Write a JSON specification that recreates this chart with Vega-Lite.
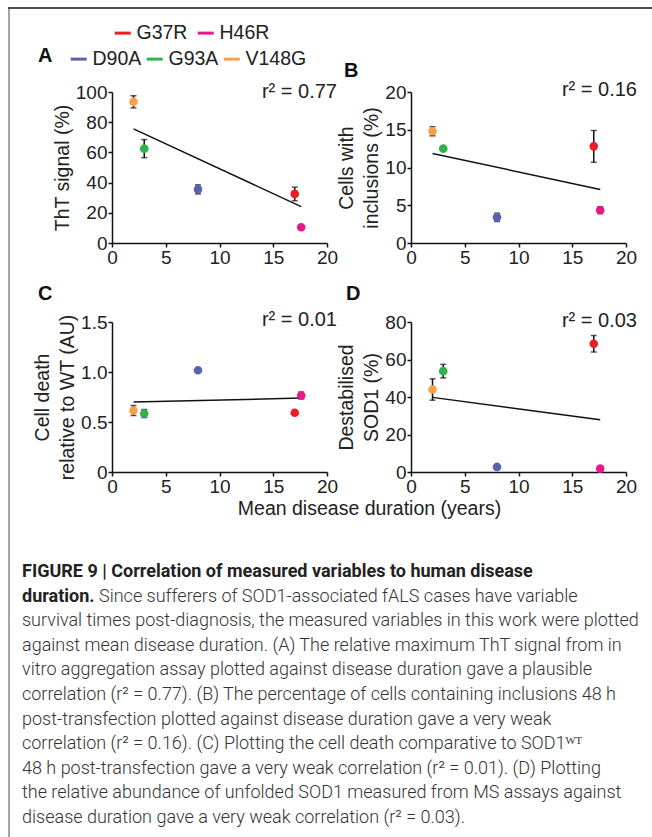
{
  "$schema": "https://vega.github.io/schema/vega-lite/v6.json",
  "background": "white",
  "padding": {"left": 8, "top": 7, "right": 0, "bottom": 0},
  "bounds": "flush",
  "spacing": 0,
  "config": {
    "view": {"stroke": null},
    "font": "Liberation Sans",
    "axis": {
      "domainColor": "#111", "domainWidth": 1.5, "tickColor": "#111", "tickWidth": 1.5, "tickSize": 4,
      "labelFont": "Liberation Sans", "labelFontSize": 19, "labelColor": "#222", "labelPadding": 1,
      "labelFlush": false, "labelOverlap": false,
      "titleFont": "Liberation Sans", "titleFontSize": 19.5, "titleFontWeight": "normal", "titleColor": "#222",
      "titlePadding": 3, "titleLineHeight": 25, "grid": false
    },
    "legend": {
      "symbolType": "stroke", "symbolStrokeWidth": 3, "symbolSize": 256,
      "labelFont": "Liberation Sans", "labelFontSize": 19.5, "labelColor": "#222", "labelOffset": 4,
      "direction": "horizontal", "padding": 0
    },
    "title": {"font": "Liberation Sans", "fontWeight": "bold", "fontSize": 20, "color": "#111", "anchor": "start", "frame": "group", "baseline": "alphabetic"}
  },
  "datasets": {
    "points": [
      {"panel": "A", "mutation": "V148G", "duration": 2, "value": 93.5, "err": 4},
      {"panel": "A", "mutation": "G93A", "duration": 3, "value": 62.5, "err": 6},
      {"panel": "A", "mutation": "D90A", "duration": 8, "value": 35.5, "err": 3},
      {"panel": "A", "mutation": "G37R", "duration": 17, "value": 32.5, "err": 4.5},
      {"panel": "A", "mutation": "H46R", "duration": 17.6, "value": 10.4, "err": 1},
      {"panel": "B", "mutation": "V148G", "duration": 2, "value": 14.8, "err": 0.6},
      {"panel": "B", "mutation": "G93A", "duration": 3, "value": 12.5, "err": 0.15},
      {"panel": "B", "mutation": "D90A", "duration": 8, "value": 3.4, "err": 0.55},
      {"panel": "B", "mutation": "G37R", "duration": 17, "value": 12.8, "err": 2.1},
      {"panel": "B", "mutation": "H46R", "duration": 17.6, "value": 4.35, "err": 0.45},
      {"panel": "C", "mutation": "V148G", "duration": 2, "value": 0.615, "err": 0.05},
      {"panel": "C", "mutation": "G93A", "duration": 3, "value": 0.585, "err": 0.04},
      {"panel": "C", "mutation": "D90A", "duration": 8, "value": 1.018, "err": 0.01},
      {"panel": "C", "mutation": "G37R", "duration": 17, "value": 0.592, "err": 0.01},
      {"panel": "C", "mutation": "H46R", "duration": 17.6, "value": 0.765, "err": 0.035},
      {"panel": "D", "mutation": "V148G", "duration": 2, "value": 44, "err": 5.7},
      {"panel": "D", "mutation": "G93A", "duration": 3, "value": 53.8, "err": 3.6},
      {"panel": "D", "mutation": "D90A", "duration": 8, "value": 2.7, "err": 0.4},
      {"panel": "D", "mutation": "G37R", "duration": 17, "value": 68.4, "err": 4.4},
      {"panel": "D", "mutation": "H46R", "duration": 17.6, "value": 1.8, "err": 0.4}
    ],
    "fits": [
      {"panel": "A", "duration": 2, "value": 75.6},
      {"panel": "A", "duration": 17.6, "value": 24.1},
      {"panel": "B", "duration": 2, "value": 11.85},
      {"panel": "B", "duration": 17.6, "value": 7.1},
      {"panel": "C", "duration": 2, "value": 0.699},
      {"panel": "C", "duration": 17.6, "value": 0.739},
      {"panel": "D", "duration": 2, "value": 39.8},
      {"panel": "D", "duration": 17.6, "value": 27.9}
    ],
    "stats": [
      {"panel": "A", "label": "r² = 0.77"},
      {"panel": "B", "label": "r² = 0.16"},
      {"panel": "C", "label": "r² = 0.01"},
      {"panel": "D", "label": "r² = 0.03"}
    ],
    "caption": [
      {"line": 1, "part": "heading", "text": "FIGURE 9 | Correlation of measured variables to human disease"},
      {"line": 2, "part": "heading", "text": "duration."},
      {"line": 2, "part": "body", "text": "Since sufferers of SOD1-associated fALS cases have variable"},
      {"line": 3, "part": "body", "text": "survival times post-diagnosis, the measured variables in this work were plotted"},
      {"line": 4, "part": "body", "text": "against mean disease duration. (A) The relative maximum ThT signal from in"},
      {"line": 5, "part": "body", "text": "vitro aggregation assay plotted against disease duration gave a plausible"},
      {"line": 6, "part": "body", "text": "correlation (r² = 0.77). (B) The percentage of cells containing inclusions 48 h"},
      {"line": 7, "part": "body", "text": "post-transfection plotted against disease duration gave a very weak"},
      {"line": 8, "part": "body", "text": "correlation (r² = 0.16). (C) Plotting the cell death comparative to SOD1ᵂᵀ"},
      {"line": 9, "part": "body", "text": "48 h post-transfection gave a very weak correlation (r² = 0.01). (D) Plotting"},
      {"line": 10, "part": "body", "text": "the relative abundance of unfolded SOD1 measured from MS assays against"},
      {"line": 11, "part": "body", "text": "disease duration gave a very weak correlation (r² = 0.03)."}
    ]
  },
  "vconcat": [
    {"width": 644, "height": 2, "view": {"fill": "#4d4d4d", "stroke": null}, "data": {"values": []}, "mark": "point"},
    {
      "bounds": "flush",
      "spacing": 102,
      "hconcat": [
        {"width": 2, "height": 828, "view": {"fill": "#a6a6a6", "stroke": null}, "data": {"values": []}, "mark": "point"},
        {
          "bounds": "flush",
          "columns": 2,
          "align": "each",
          "spacing": {"row": 79, "column": 84},
          "concat": [
            {"width": 10, "height": 4, "data": {"values": []}, "mark": "point"},
            {"width": 10, "height": 4, "data": {"values": []}, "mark": "point"},
            {
              "width": 215, "height": 151,
              "title": {"text": "A", "dx": -74, "offset": 16},
              "layer": [
                {"data": {"name": "fits"}, "transform": [{"filter": "datum.panel === 'A'"}], "mark": {"type": "line", "color": "#111", "strokeWidth": 1.5},
                  "encoding": {
                    "x": {"field": "duration", "type": "quantitative", "scale": {"domain": [0, 20], "nice": false, "zero": false}, "axis": {"values": [0, 5, 10, 15, 20], "title": null}},
                    "y": {"field": "value", "type": "quantitative", "scale": {"domain": [0, 100], "nice": false}, "axis": {"values": [0, 20, 40, 60, 80, 100], "title": "ThT signal (%)"}}
                  }},
                {"data": {"name": "points"}, "transform": [{"filter": "datum.panel === 'A'"}], "mark": {"type": "errorbar", "color": "#111", "thickness": 1.5, "ticks": {"size": 6}},
                  "encoding": {
                    "x": {"field": "duration", "type": "quantitative", "scale": {"domain": [0, 20], "nice": false, "zero": false}, "axis": {"values": [0, 5, 10, 15, 20], "title": null}},
                    "y": {"field": "value", "type": "quantitative", "scale": {"domain": [0, 100], "nice": false}, "axis": {"values": [0, 20, 40, 60, 80, 100], "title": "ThT signal (%)"}},
                    "yError": {"field": "err"}
                  }},
                {"data": {"name": "points"}, "transform": [{"filter": "datum.panel === 'A'"}], "mark": {"type": "point", "filled": true, "size": 44, "opacity": 1},
                  "encoding": {
                    "x": {"field": "duration", "type": "quantitative", "scale": {"domain": [0, 20], "nice": false, "zero": false}, "axis": {"values": [0, 5, 10, 15, 20], "title": null}},
                    "y": {"field": "value", "type": "quantitative", "scale": {"domain": [0, 100], "nice": false}, "axis": {"values": [0, 20, 40, 60, 80, 100], "title": "ThT signal (%)"}},
                    "fill": {"field": "mutation", "type": "nominal", "scale": {"domain": ["G37R", "H46R", "D90A", "G93A", "V148G"], "range": ["#ed1c24", "#e8178a", "#5a62ad", "#2fb34a", "#f9a04a"]},
                      "legend": {"values": ["D90A", "G93A", "V148G"], "orient": "none", "legendX": 61, "legendY": 42, "title": null, "columnPadding": -2, "symbolType": "stroke", "symbolStrokeWidth": 3, "symbolSize": 256, "direction": "horizontal", "symbolOpacity": 1}},
                    "stroke": {"field": "mutation", "type": "nominal", "scale": {"domain": ["G37R", "H46R", "D90A", "G93A", "V148G"], "range": ["#ed1c24", "#e8178a", "#5a62ad", "#2fb34a", "#f9a04a"]},
                      "legend": {"values": ["D90A", "G93A", "V148G"], "orient": "none", "legendX": 61, "legendY": 42, "title": null, "columnPadding": -2, "symbolType": "stroke", "symbolStrokeWidth": 3, "symbolSize": 256, "direction": "horizontal", "symbolOpacity": 1}}
                  }},
                {"data": {"name": "points"}, "transform": [{"filter": "datum.panel === 'A' && (datum.mutation === 'G37R' || datum.mutation === 'H46R')"}], "mark": {"type": "point", "filled": false, "opacity": 0},
                  "encoding": {
                    "x": {"field": "duration", "type": "quantitative", "scale": {"domain": [0, 20], "nice": false, "zero": false}, "axis": {"values": [0, 5, 10, 15, 20], "title": null}},
                    "y": {"field": "value", "type": "quantitative", "scale": {"domain": [0, 100], "nice": false}, "axis": {"values": [0, 20, 40, 60, 80, 100], "title": "ThT signal (%)"}},
                    "color": {"field": "mutation", "type": "nominal", "scale": {"domain": ["G37R", "H46R"], "range": ["#ed1c24", "#e8178a"]},
                      "legend": {"values": ["G37R", "H46R"], "orient": "none", "legendX": 105, "legendY": 16, "title": null, "columnPadding": 3, "symbolType": "stroke", "symbolStrokeWidth": 3, "symbolSize": 256, "direction": "horizontal", "symbolOpacity": 1}}
                  }},
                {"data": {"name": "stats"}, "transform": [{"filter": "datum.panel === 'A'"}], "mark": {"type": "text", "x": "width", "y": 0, "align": "right", "baseline": "alphabetic", "dx": 10, "dy": 6, "fontSize": 20, "color": "#222"},
                  "encoding": {"text": {"field": "label"}}}
              ]
            },
            {
              "width": 215, "height": 151,
              "title": {"text": "B", "dx": -67, "offset": -1},
              "layer": [
                {"data": {"name": "fits"}, "transform": [{"filter": "datum.panel === 'B'"}], "mark": {"type": "line", "color": "#111", "strokeWidth": 1.5},
                  "encoding": {
                    "x": {"field": "duration", "type": "quantitative", "scale": {"domain": [0, 20], "nice": false, "zero": false}, "axis": {"values": [0, 5, 10, 15, 20], "title": null}},
                    "y": {"field": "value", "type": "quantitative", "scale": {"domain": [0, 20], "nice": false}, "axis": {"values": [0, 5, 10, 15, 20], "title": ["Cells with", "inclusions (%)"]}}
                  }},
                {"data": {"name": "points"}, "transform": [{"filter": "datum.panel === 'B'"}], "mark": {"type": "errorbar", "color": "#111", "thickness": 1.5, "ticks": {"size": 6}},
                  "encoding": {
                    "x": {"field": "duration", "type": "quantitative", "scale": {"domain": [0, 20], "nice": false, "zero": false}, "axis": {"values": [0, 5, 10, 15, 20], "title": null}},
                    "y": {"field": "value", "type": "quantitative", "scale": {"domain": [0, 20], "nice": false}, "axis": {"values": [0, 5, 10, 15, 20], "title": ["Cells with", "inclusions (%)"]}},
                    "yError": {"field": "err"}
                  }},
                {"data": {"name": "points"}, "transform": [{"filter": "datum.panel === 'B'"}], "mark": {"type": "point", "filled": true, "size": 44, "opacity": 1},
                  "encoding": {
                    "x": {"field": "duration", "type": "quantitative", "scale": {"domain": [0, 20], "nice": false, "zero": false}, "axis": {"values": [0, 5, 10, 15, 20], "title": null}},
                    "y": {"field": "value", "type": "quantitative", "scale": {"domain": [0, 20], "nice": false}, "axis": {"values": [0, 5, 10, 15, 20], "title": ["Cells with", "inclusions (%)"]}},
                    "fill": {"field": "mutation", "type": "nominal", "scale": {"domain": ["G37R", "H46R", "D90A", "G93A", "V148G"], "range": ["#ed1c24", "#e8178a", "#5a62ad", "#2fb34a", "#f9a04a"]},
                      "legend": {"values": ["D90A", "G93A", "V148G"], "orient": "none", "legendX": 61, "legendY": 42, "title": null, "columnPadding": -2, "symbolType": "stroke", "symbolStrokeWidth": 3, "symbolSize": 256, "direction": "horizontal", "symbolOpacity": 1}},
                    "stroke": {"field": "mutation", "type": "nominal", "scale": {"domain": ["G37R", "H46R", "D90A", "G93A", "V148G"], "range": ["#ed1c24", "#e8178a", "#5a62ad", "#2fb34a", "#f9a04a"]},
                      "legend": {"values": ["D90A", "G93A", "V148G"], "orient": "none", "legendX": 61, "legendY": 42, "title": null, "columnPadding": -2, "symbolType": "stroke", "symbolStrokeWidth": 3, "symbolSize": 256, "direction": "horizontal", "symbolOpacity": 1}}
                  }},
                {"data": {"name": "stats"}, "transform": [{"filter": "datum.panel === 'B'"}], "mark": {"type": "text", "x": "width", "y": 0, "align": "right", "baseline": "alphabetic", "dx": 11, "dy": 4, "fontSize": 20, "color": "#222"},
                  "encoding": {"text": {"field": "label"}}}
              ]
            },
            {
              "width": 215, "height": 150,
              "title": {"text": "C", "dx": -74, "offset": 6},
              "layer": [
                {"data": {"name": "fits"}, "transform": [{"filter": "datum.panel === 'C'"}], "mark": {"type": "line", "color": "#111", "strokeWidth": 1.5},
                  "encoding": {
                    "x": {"field": "duration", "type": "quantitative", "scale": {"domain": [0, 20], "nice": false, "zero": false}, "axis": {"values": [0, 5, 10, 15, 20], "title": "Mean disease duration (years)", "titleX": 257, "titleAlign": "center", "titlePadding": 3}},
                    "y": {"field": "value", "type": "quantitative", "scale": {"domain": [0, 1.5], "nice": false}, "axis": {"values": [0, 0.5, 1, 1.5], "labelExpr": "datum.value === 0 ? '0' : format(datum.value, '.1f')", "title": ["Cell death", "relative to WT (AU)"]}}
                  }},
                {"data": {"name": "points"}, "transform": [{"filter": "datum.panel === 'C'"}], "mark": {"type": "errorbar", "color": "#111", "thickness": 1.5, "ticks": {"size": 6}},
                  "encoding": {
                    "x": {"field": "duration", "type": "quantitative", "scale": {"domain": [0, 20], "nice": false, "zero": false}, "axis": {"values": [0, 5, 10, 15, 20], "title": "Mean disease duration (years)", "titleX": 257, "titleAlign": "center", "titlePadding": 3}},
                    "y": {"field": "value", "type": "quantitative", "scale": {"domain": [0, 1.5], "nice": false}, "axis": {"values": [0, 0.5, 1, 1.5], "labelExpr": "datum.value === 0 ? '0' : format(datum.value, '.1f')", "title": ["Cell death", "relative to WT (AU)"]}},
                    "yError": {"field": "err"}
                  }},
                {"data": {"name": "points"}, "transform": [{"filter": "datum.panel === 'C'"}], "mark": {"type": "point", "filled": true, "size": 44, "opacity": 1},
                  "encoding": {
                    "x": {"field": "duration", "type": "quantitative", "scale": {"domain": [0, 20], "nice": false, "zero": false}, "axis": {"values": [0, 5, 10, 15, 20], "title": "Mean disease duration (years)", "titleX": 257, "titleAlign": "center", "titlePadding": 3}},
                    "y": {"field": "value", "type": "quantitative", "scale": {"domain": [0, 1.5], "nice": false}, "axis": {"values": [0, 0.5, 1, 1.5], "labelExpr": "datum.value === 0 ? '0' : format(datum.value, '.1f')", "title": ["Cell death", "relative to WT (AU)"]}},
                    "fill": {"field": "mutation", "type": "nominal", "scale": {"domain": ["G37R", "H46R", "D90A", "G93A", "V148G"], "range": ["#ed1c24", "#e8178a", "#5a62ad", "#2fb34a", "#f9a04a"]},
                      "legend": {"values": ["D90A", "G93A", "V148G"], "orient": "none", "legendX": 61, "legendY": 42, "title": null, "columnPadding": -2, "symbolType": "stroke", "symbolStrokeWidth": 3, "symbolSize": 256, "direction": "horizontal", "symbolOpacity": 1}},
                    "stroke": {"field": "mutation", "type": "nominal", "scale": {"domain": ["G37R", "H46R", "D90A", "G93A", "V148G"], "range": ["#ed1c24", "#e8178a", "#5a62ad", "#2fb34a", "#f9a04a"]},
                      "legend": {"values": ["D90A", "G93A", "V148G"], "orient": "none", "legendX": 61, "legendY": 42, "title": null, "columnPadding": -2, "symbolType": "stroke", "symbolStrokeWidth": 3, "symbolSize": 256, "direction": "horizontal", "symbolOpacity": 1}}
                  }},
                {"data": {"name": "stats"}, "transform": [{"filter": "datum.panel === 'C'"}], "mark": {"type": "text", "x": "width", "y": 0, "align": "right", "baseline": "alphabetic", "dx": 10, "dy": 4, "fontSize": 20, "color": "#222"},
                  "encoding": {"text": {"field": "label"}}}
              ]
            },
            {
              "width": 215, "height": 150,
              "title": {"text": "D", "dx": -65, "offset": 7},
              "layer": [
                {"data": {"name": "fits"}, "transform": [{"filter": "datum.panel === 'D'"}], "mark": {"type": "line", "color": "#111", "strokeWidth": 1.5},
                  "encoding": {
                    "x": {"field": "duration", "type": "quantitative", "scale": {"domain": [0, 20], "nice": false, "zero": false}, "axis": {"values": [0, 5, 10, 15, 20], "title": null}},
                    "y": {"field": "value", "type": "quantitative", "scale": {"domain": [0, 80], "nice": false}, "axis": {"values": [0, 20, 40, 60, 80], "title": ["Destabilised", "SOD1 (%)"]}}
                  }},
                {"data": {"name": "points"}, "transform": [{"filter": "datum.panel === 'D'"}], "mark": {"type": "errorbar", "color": "#111", "thickness": 1.5, "ticks": {"size": 6}},
                  "encoding": {
                    "x": {"field": "duration", "type": "quantitative", "scale": {"domain": [0, 20], "nice": false, "zero": false}, "axis": {"values": [0, 5, 10, 15, 20], "title": null}},
                    "y": {"field": "value", "type": "quantitative", "scale": {"domain": [0, 80], "nice": false}, "axis": {"values": [0, 20, 40, 60, 80], "title": ["Destabilised", "SOD1 (%)"]}},
                    "yError": {"field": "err"}
                  }},
                {"data": {"name": "points"}, "transform": [{"filter": "datum.panel === 'D'"}], "mark": {"type": "point", "filled": true, "size": 44, "opacity": 1},
                  "encoding": {
                    "x": {"field": "duration", "type": "quantitative", "scale": {"domain": [0, 20], "nice": false, "zero": false}, "axis": {"values": [0, 5, 10, 15, 20], "title": null}},
                    "y": {"field": "value", "type": "quantitative", "scale": {"domain": [0, 80], "nice": false}, "axis": {"values": [0, 20, 40, 60, 80], "title": ["Destabilised", "SOD1 (%)"]}},
                    "fill": {"field": "mutation", "type": "nominal", "scale": {"domain": ["G37R", "H46R", "D90A", "G93A", "V148G"], "range": ["#ed1c24", "#e8178a", "#5a62ad", "#2fb34a", "#f9a04a"]},
                      "legend": {"values": ["D90A", "G93A", "V148G"], "orient": "none", "legendX": 61, "legendY": 42, "title": null, "columnPadding": -2, "symbolType": "stroke", "symbolStrokeWidth": 3, "symbolSize": 256, "direction": "horizontal", "symbolOpacity": 1}},
                    "stroke": {"field": "mutation", "type": "nominal", "scale": {"domain": ["G37R", "H46R", "D90A", "G93A", "V148G"], "range": ["#ed1c24", "#e8178a", "#5a62ad", "#2fb34a", "#f9a04a"]},
                      "legend": {"values": ["D90A", "G93A", "V148G"], "orient": "none", "legendX": 61, "legendY": 42, "title": null, "columnPadding": -2, "symbolType": "stroke", "symbolStrokeWidth": 3, "symbolSize": 256, "direction": "horizontal", "symbolOpacity": 1}}
                  }},
                {"data": {"name": "stats"}, "transform": [{"filter": "datum.panel === 'D'"}], "mark": {"type": "text", "x": "width", "y": 0, "align": "right", "baseline": "alphabetic", "dx": 11, "dy": 5, "fontSize": 20, "color": "#222"},
                  "encoding": {"text": {"field": "label"}}}
              ]
            },
            {
              "width": 215, "height": 246,
              "data": {"name": "caption"},
              "encoding": {
                "y": {"field": "line", "type": "ordinal", "scale": {"type": "point", "padding": 0, "domain": [1, 2, 3, 4, 5, 6, 7, 8, 9, 10, 11]}, "axis": null},
                "text": {"field": "text"}
              },
              "layer": [
                {"transform": [{"filter": "datum.part === 'heading'"}],
                  "mark": {"type": "text", "align": "left", "baseline": "alphabetic", "dy": 26, "font": "Roboto", "fontSize": 18, "fontWeight": "bold", "color": "#222"},
                  "encoding": {"x": {"value": -90}}},
                {"transform": [{"filter": "datum.part === 'body' && datum.line !== 2"}],
                  "mark": {"type": "text", "align": "left", "baseline": "alphabetic", "dy": 26, "font": "Roboto", "fontSize": 18, "fontWeight": 300, "color": "#333"},
                  "encoding": {"x": {"value": -90}}},
                {"transform": [{"filter": "datum.part === 'body' && datum.line === 2"}],
                  "mark": {"type": "text", "align": "left", "baseline": "alphabetic", "dy": 26, "font": "Roboto", "fontSize": 18, "fontWeight": 300, "color": "#333"},
                  "encoding": {"x": {"value": -13}}}
              ]
            }
          ]
        }
      ]
    }
  ]
}
